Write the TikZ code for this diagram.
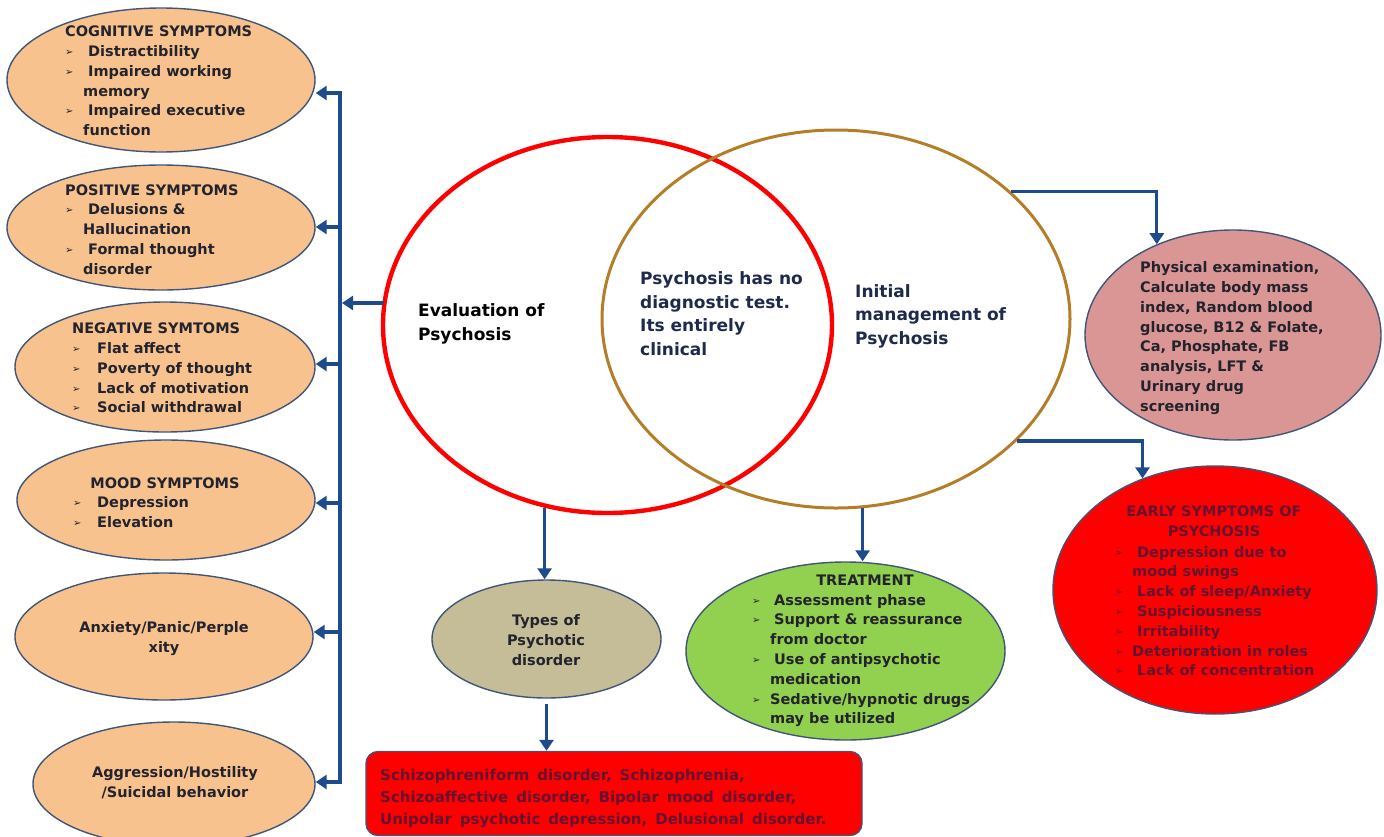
\documentclass[tikz,border=0pt]{standalone}
\usepackage{fontspec}
\setmainfont{DejaVu Sans}
\newfontfamily\bulf{DejaVu Sans}
\usetikzlibrary{shapes.geometric,arrows.meta}
\definecolor{peach}{RGB}{248,194,143}
\definecolor{edgeblue}{RGB}{65,85,120}
\definecolor{arrowblue}{RGB}{30,75,140}
\definecolor{pinkfill}{RGB}{217,150,148}
\definecolor{greenfill}{RGB}{146,208,80}
\definecolor{tanfill}{RGB}{196,189,151}
\definecolor{olivering}{RGB}{180,125,40}
\definecolor{darktext}{RGB}{35,35,45}
\definecolor{navytext}{RGB}{30,42,75}
\definecolor{maroontext}{RGB}{100,18,48}
\newcommand{\bl}[2][23pt]{\makebox[#1][l]{\raisebox{1pt}{\bulf\mdseries\fontsize{10}{10}\selectfont ➢}}#2}
\newcommand{\cl}[2][18pt]{\hspace*{#1}#2}
\newcommand{\widesp}{\spaceskip=8pt plus 1pt\relax}
\tikzset{
  sym/.style={ellipse, draw=edgeblue, line width=1.4pt, fill=peach, inner sep=0pt},
  shp/.style={draw=edgeblue, line width=1.4pt, inner sep=0pt},
  txt/.style={align=left, anchor=west, inner sep=0pt, text=darktext,
    font=\fontsize{14.5}{19.8}\selectfont\bfseries},
  ctxt/.style={align=center, anchor=center, inner sep=0pt, text=darktext,
    font=\fontsize{14.5}{19.8}\selectfont\bfseries},
  bigtxt/.style={align=left, anchor=west, inner sep=0pt,
    font=\fontsize{17}{23.6}\selectfont\bfseries},
  conn/.style={draw=arrowblue, line width=3.2pt, -{Triangle[length=11pt,width=14pt]}},
  busline/.style={draw=arrowblue, line width=3.2pt},
}
\begin{document}
\begin{tikzpicture}[x=1pt,y=-1pt]
\useasboundingbox (0,0) rectangle (1384,836);
\clip (0,0) rectangle (1384,836);

% central circles
\node[ellipse, draw=red, line width=4.4pt, minimum width=449pt, minimum height=376pt, inner sep=0pt] (evalc) at (607.5,325) {};
\node[ellipse, draw=olivering, line width=3pt, minimum width=468pt, minimum height=378pt, inner sep=0pt] (initc) at (836,319) {};
\node[bigtxt, text=black] (evaltxt) at (418,324) {Evaluation of\\Psychosis};
\node[bigtxt, text=navytext] (midtxt) at (640,313.5) {Psychosis has no\\diagnostic test.\\Its entirely\\clinical};
\node[bigtxt, text=navytext] (inittxt) at (855,316) {Initial\\management of\\Psychosis};

% left ellipses
\node[sym, minimum width=308pt, minimum height=144pt] (cog) at (161,80) {};
\node[sym, minimum width=308pt, minimum height=125pt] (pos) at (161,227.5) {};
\node[sym, minimum width=300pt, minimum height=130pt] (neg) at (165,367) {};
\node[sym, minimum width=298pt, minimum height=120pt] (mood) at (166,500) {};
\node[sym, minimum width=298pt, minimum height=127pt] (anx) at (164,636.5) {};
\node[sym, minimum width=282pt, minimum height=124pt] (agg) at (174,784) {};

\node[txt] (cogt) at (65,81) {COGNITIVE SYMPTOMS\\\bl{Distractibility}\\\bl{Impaired working}\\\cl{memory}\\\bl{Impaired executive}\\\cl{function}};
\node[txt] (post) at (65,229.5) {POSITIVE SYMPTOMS\\\bl{Delusions \&}\\\cl{Hallucination}\\\bl{Formal thought}\\\cl{disorder}};
\node[txt] (negt) at (72,368) {NEGATIVE SYMTOMS\\\bl[25pt]{Flat affect}\\\bl[25pt]{Poverty of thought}\\\bl[25pt]{Lack of motivation}\\\bl[25pt]{Social withdrawal}};
\node[ctxt] (moodh) at (165,483) {MOOD SYMPTOMS};
\node[txt] (moodt) at (73,512) {\bl[24pt]{Depression}\\\bl[24pt]{Elevation}};
\node[ctxt] (anxt) at (164,638.5) {Anxiety/Panic/Perple\\xity};
\node[ctxt] (aggt) at (175,782.5) {Aggression/Hostility\\/Suicidal behavior};

% bus
\coordinate (b1) at (340,93);
\coordinate (b2) at (340,227);
\coordinate (b3) at (340,364);
\coordinate (b4) at (340,503);
\coordinate (b5) at (340,632);
\coordinate (b6) at (340,782);
\coordinate (bmid) at (342,303);
\draw[busline, line cap=rect] (b1) -- (b6);
\draw[conn] (b1) -- (b1 -| cog.east);
\draw[conn] (b2) -- (b2 -| pos.east);
\draw[conn] (b3) -- (b3 -| neg.east);
\draw[conn] (b4) -- (b4 -| mood.east);
\draw[conn] (b5) -- (b5 -| anx.east);
\draw[conn] (b6) -- (b6 -| agg.east);
\draw[conn] ([xshift=3pt]evalc.west |- bmid) -- (bmid);

% right side
\node[shp, ellipse, fill=pinkfill, minimum width=296pt, minimum height=210pt] (phys) at (1233,335) {};
\node[txt] (physt) at (1140,338) {Physical examination,\\Calculate body mass\\index, Random blood\\glucose, B12 \& Folate,\\Ca, Phosphate, FB\\analysis, LFT \&\\Urinary drug\\screening};
\node[shp, ellipse, fill=red, minimum width=324pt, minimum height=248pt] (early) at (1215,590) {};
\node[ctxt, text=maroontext] (earlyh) at (1214,521.5) {EARLY SYMPTOMS OF\\PSYCHOSIS};
\node[txt, text=maroontext] (earlyt) at (1115,611) {\bl[22pt]{Depression due to}\\\cl[17pt]{mood swings}\\\bl[22pt]{Lack of sleep/Anxiety}\\\bl[22pt]{Suspiciousness}\\\bl[22pt]{Irritability}\\\bl[17pt]{Deterioration in roles}\\\bl[22pt]{Lack of concentration}};
\draw[conn] (initc.36) -| (phys.130);
\draw[conn] (initc.326) -| (early.123);

% bottom
\node[shp, ellipse, fill=tanfill, minimum width=229pt, minimum height=118pt] (types) at (546.5,639) {};
\node[ctxt] (typest) at (546,640) {Types of\\Psychotic\\disorder};
\node[shp, ellipse, fill=greenfill, minimum width=319pt, minimum height=178pt] (treat) at (845.5,651) {};
\node[ctxt] (treath) at (865,580) {TREATMENT};
\node[txt] (treatt) at (752,660.5) {\bl[22pt]{Assessment phase}\\\bl[22pt]{Support \& reassurance}\\\cl[18pt]{from doctor}\\\bl[22pt]{Use of antipsychotic}\\\cl[18pt]{medication}\\\bl[18pt]{Sedative/hypnotic drugs}\\\cl[18pt]{may be utilized}};
\node[shp, fill=red, rounded corners=12pt, minimum width=496pt, minimum height=84pt] (rect) at (614,793.5) {};
\node[txt, text=maroontext, font=\fontsize{15}{22}\selectfont\bfseries\widesp] (rectt) at (380,798) {Schizophreniform disorder, Schizophrenia,\\Schizoaffective disorder, Bipolar mood disorder,\\Unipolar psychotic depression, Delusional disorder.};

\draw[conn] (evalc.251.5) -- (evalc.251.5 |- types.north);
\draw[conn] (initc.278) -- (initc.278 |- treat.north);
\draw[conn] ([yshift=-5pt]types.south) -- (types.south |- rect.north);
\end{tikzpicture}
\end{document}
